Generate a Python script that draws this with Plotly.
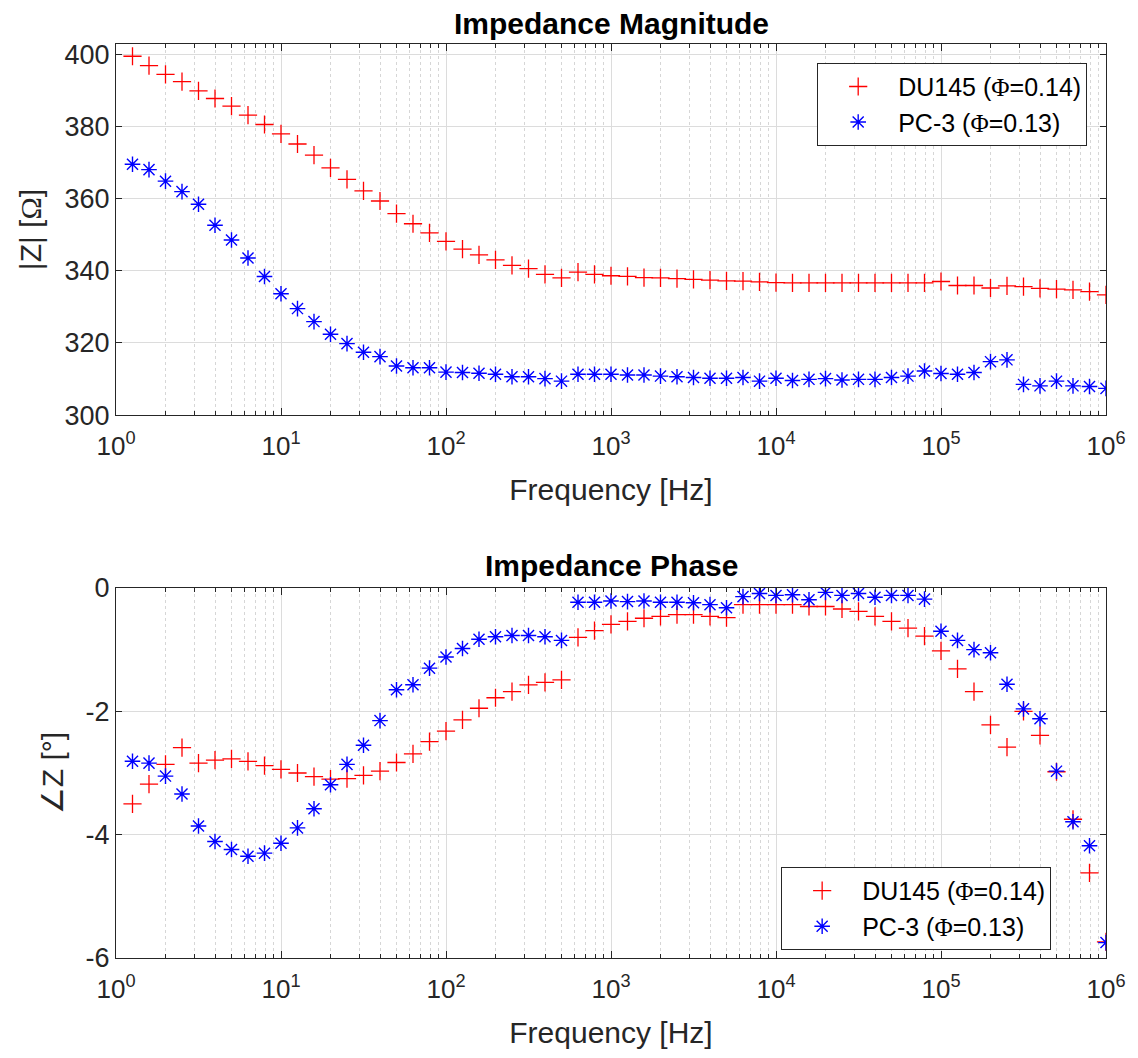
import numpy as np
import plotly.graph_objects as go
from plotly.subplots import make_subplots

# frequency points: 10 per decade, 10^0.1 .. 10^6
freq_exp = [k / 10 for k in range(1, 61)]
freq = [10 ** e for e in freq_exp]

mag_du145 = [399.4, 396.8, 394.4, 392.4, 389.8, 387.7, 385.6, 383.1, 380.5, 377.9,
             375.1, 372.0, 368.5, 365.3, 362.1, 359.3, 355.8, 353.0, 350.5, 348.1,
             346.0, 344.4, 343.0, 341.5, 340.6, 339.0, 338.0, 339.6, 339.0, 338.6,
             338.4, 338.1, 338.0, 337.8, 337.6, 337.4, 337.2, 337.1, 336.9, 336.7,
             336.6, 336.6, 336.6, 336.6, 336.6, 336.6, 336.6, 336.6, 336.6, 337.0,
             335.9, 335.9, 335.2, 335.8, 335.6, 335.1, 334.9, 334.7, 334.2, 333.3]
mag_pc3 = [369.5, 368.0, 364.8, 361.9, 358.4, 352.6, 348.5, 343.5, 338.4, 333.6,
           329.5, 325.9, 322.4, 319.8, 317.4, 316.2, 313.6, 313.1, 313.1, 311.9,
           311.8, 311.6, 311.3, 310.6, 310.6, 310.1, 309.4, 311.3, 311.3, 311.3,
           311.1, 311.1, 310.8, 310.6, 310.4, 310.2, 310.2, 310.4, 309.4, 310.2,
           309.6, 309.9, 310.1, 309.7, 309.9, 309.9, 310.4, 310.8, 312.2, 311.5,
           311.3, 311.8, 314.8, 315.3, 308.5, 308.1, 309.4, 308.1, 307.9, 307.4]

ph_du145 = [-3.50, -3.18, -2.86, -2.59, -2.84, -2.79, -2.77, -2.81, -2.88, -2.94,
            -3.00, -3.06, -3.10, -3.09, -3.04, -2.97, -2.83, -2.69, -2.49, -2.32,
            -2.14, -1.95, -1.78, -1.68, -1.57, -1.53, -1.49, -0.80, -0.69, -0.59,
            -0.54, -0.49, -0.46, -0.43, -0.43, -0.46, -0.48, -0.27, -0.27, -0.27,
            -0.27, -0.30, -0.30, -0.34, -0.38, -0.46, -0.54, -0.65, -0.78, -1.02,
            -1.31, -1.68, -2.22, -2.58, -2.00, -2.39, -2.98, -3.75, -4.62, -5.74]
ph_pc3 = [-2.81, -2.84, -3.05, -3.34, -3.86, -4.11, -4.24, -4.35, -4.30, -4.14,
          -3.89, -3.58, -3.19, -2.86, -2.55, -2.15, -1.65, -1.57, -1.30, -1.12,
          -0.98, -0.83, -0.79, -0.77, -0.77, -0.79, -0.85, -0.23, -0.23, -0.21,
          -0.22, -0.21, -0.23, -0.23, -0.24, -0.27, -0.32, -0.14, -0.09, -0.12,
          -0.11, -0.19, -0.07, -0.12, -0.09, -0.15, -0.12, -0.12, -0.18, -0.70,
          -0.85, -1.00, -1.05, -1.56, -1.96, -2.12, -2.97, -3.79, -4.18, -5.75]

x_tickvals = [1, 10, 100, 1e3, 1e4, 1e5, 1e6]
x_ticktext = [f"10<sup>{i}</sup>" for i in range(7)]
mag_ticks = [300, 320, 340, 360, 380, 400]
ph_ticks = [-6, -4, -2, 0]
ph_ticktext = ["-6", "-4", "-2", "0"]

SERIF_SPAN = '<span style="font-family:Liberation Serif">{}</span>'
name_du = "DU145 (" + SERIF_SPAN.format("\u03a6") + "=0.14)"
name_pc = "PC-3 (" + SERIF_SPAN.format("\u03a6") + "=0.13)"

FONT = "Liberation Sans, Arial, sans-serif"
DARK = "#262626"

fig = make_subplots(rows=2, cols=1)

def add_pair(row, y_du, y_pc, legend):
    fig.add_trace(go.Scatter(
        x=freq, y=y_du, mode="markers", name=name_du, legend=legend,
        marker=dict(symbol="cross-thin-open", size=13, color="red",
                    line=dict(color="red", width=1.3)),
    ), row=row, col=1)
    fig.add_trace(go.Scatter(
        x=freq, y=y_pc, mode="markers", name=name_pc, legend=legend,
        marker=dict(symbol="asterisk-open", size=13, color="blue",
                    line=dict(color="blue", width=1.4)),
    ), row=row, col=1)

add_pair(1, mag_du145, mag_pc3, "legend")
add_pair(2, ph_du145, ph_pc3, "legend2")

fig.update_xaxes(
    type="log", range=[0, 6],
    tickvals=x_tickvals, ticktext=x_ticktext,
    tickfont=dict(size=26, color=DARK, family=FONT),
    ticklabelstandoff=8,
    showline=True, linecolor=DARK, linewidth=1, mirror="ticks",
    ticks="inside", ticklen=7, tickcolor=DARK,
    showgrid=True, gridcolor="#dcdcdc", gridwidth=1,
    minor=dict(dtick="D1", ticks="inside", ticklen=4, tickcolor=DARK,
               showgrid=True, gridcolor="#d6d6d6", griddash="dot", gridwidth=1),
    zeroline=False,
    title=dict(text="Frequency [Hz]", font=dict(size=30, color=DARK, family=FONT),
               standoff=18),
)

fig.update_yaxes(
    tickfont=dict(size=27, color=DARK, family=FONT),
    showline=True, linecolor=DARK, linewidth=1, mirror="ticks",
    ticks="inside", ticklen=6, tickcolor=DARK,
    showgrid=True, gridcolor="#dcdcdc", gridwidth=1, zeroline=False,
)
fig.update_yaxes(range=[300, 402.8], tickvals=mag_ticks, domain=[0.594, 1.0],
                 title=dict(text="|Z| [" + SERIF_SPAN.format("\u03a9") + "]",
                            font=dict(size=30, color=DARK, family=FONT), standoff=14),
                 row=1, col=1)
fig.update_yaxes(range=[-6, 0], tickvals=ph_ticks, ticktext=ph_ticktext, domain=[0.0, 0.4048],
                 title=dict(text="\u2220Z [\u00b0]", font=dict(size=30, color=DARK, family=FONT),
                            standoff=13),
                 row=2, col=1)

fig.add_annotation(text="<b>Impedance Magnitude</b>", xref="paper", yref="y domain",
                   x=0.5, y=1.0, yanchor="bottom", yshift=2, showarrow=False,
                   font=dict(size=30, color="black", family=FONT))
fig.add_annotation(text="<b>Impedance Phase</b>", xref="paper", yref="y2 domain",
                   x=0.5, y=1.0, yanchor="bottom", yshift=4, showarrow=False,
                   font=dict(size=30, color="black", family=FONT))

legend_style = dict(bgcolor="white", bordercolor=DARK, borderwidth=1,
                    font=dict(size=25, color="black", family=FONT),
                    itemwidth=70, tracegroupgap=0)

fig.update_layout(
    width=1130, height=1050,
    margin=dict(l=108, r=30, t=36, b=100),
    paper_bgcolor="white", plot_bgcolor="white",
    showlegend=True,
    legend=dict(x=0.981, y=0.9795, xanchor="right", yanchor="top", **legend_style),
    legend2=dict(x=0.9446, y=0.0088, xanchor="right", yanchor="bottom", **legend_style),
)

fig.write_html("out.html")
